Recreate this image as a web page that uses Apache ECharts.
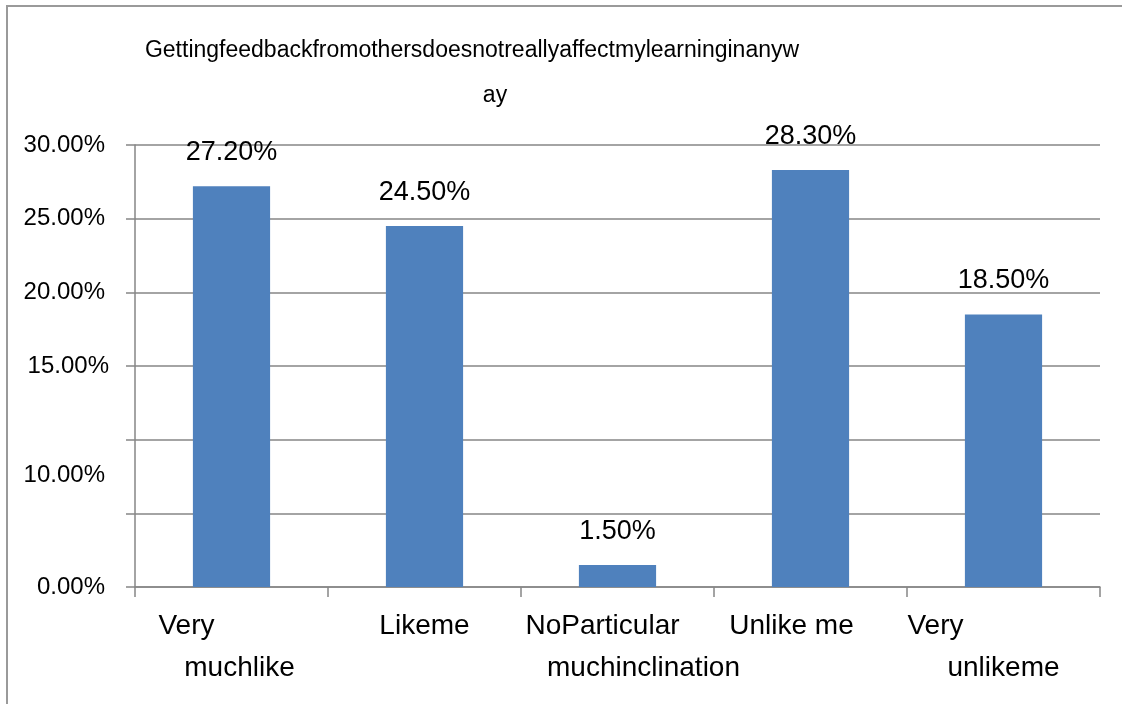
<!DOCTYPE html>
<html>
<head>
<meta charset="utf-8">
<script src="https://cdn.jsdelivr.net/npm/echarts@6/dist/echarts.min.js"></script>
<style>
  html, body { margin: 0; padding: 0; background: #ffffff; }
  #chart { width: 1122px; height: 704px; }
</style>
</head>
<body>
<div id="chart"></div>
<script>
// data
const titleLine1 = 'Gettingfeedbackfromothersdoesnotreallyaffectmylearninginanyw'
const titleLine2 = 'ay'
const categories = ['Very\nmuchlike', 'Likeme', 'NoParticular\nmuchinclination', 'Unlike me', 'Very\nunlikeme']
const values = [27.2, 24.5, 1.5, 28.3, 18.5]
const yTicks = [0, 5, 10, 15, 20, 25, 30]

// horizontal nudge of each label line (px), the original wraps them unevenly
const lineShift = [[-45, 8], [0], [-15, 26], [-19], [-68, 0]]

const font = 'Liberation Sans'
const grey = '#868686'

const xRich = {}
lineShift.forEach((lines, i) => {
  lines.forEach((d, j) => {
    xRich['c' + i + '_' + j] = {
      fontFamily: font,
      fontSize: 28,
      lineHeight: 42,
      color: '#000',
      padding: d > 0 ? [0, 0, 0, 2 * d] : [0, -2 * d, 0, 0],
    }
  })
})

const chart = echarts.init(document.getElementById('chart'))
chart.setOption({
  animation: false,
  backgroundColor: '#ffffff',
  title: {
    text: '{a|' + titleLine1 + '}\n{b|' + titleLine2 + '}',
    left: 472,
    top: 28,
    textAlign: 'center',
    padding: 0,
    textStyle: {
      fontWeight: 'normal',
      rich: {
        a: { fontFamily: font, fontSize: 23, fontWeight: 'normal', lineHeight: 45, color: '#000' },
        b: { fontFamily: font, fontSize: 23, fontWeight: 'normal', lineHeight: 45, color: '#000', padding: [0, 0, 0, 46] },
      },
    },
  },
  grid: {
    left: 135,
    right: 22,
    top: 145,
    bottom: 117,
  },
  xAxis: {
    type: 'category',
    data: categories,
    axisLine: { lineStyle: { color: grey, width: 1.5 } },
    axisTick: { show: true, length: 10, lineStyle: { color: grey, width: 1.5 } },
    axisLabel: {
      interval: 0,
      margin: 18,
      hideOverlap: false,
      formatter: (value, index) =>
        value.split('\n').map((t, j) => '{c' + index + '_' + j + '|' + t + '}').join('\n'),
      rich: xRich,
    },
  },
  yAxis: {
    type: 'value',
    min: yTicks[0],
    max: yTicks[yTicks.length - 1],
    interval: 5,
    axisLine: { show: true, lineStyle: { color: grey, width: 1.5 } },
    axisTick: { show: true, length: 9, lineStyle: { color: grey, width: 1.5 } },
    splitLine: { lineStyle: { color: grey, width: 1.5 } },
    axisLabel: {
      margin: 26,
      formatter: (v) => {
        if (v === 5) return ''
        const s = v.toFixed(2) + '%'
        if (v === 10) return '{low|' + s + '}'
        if (v === 15) return '{m|' + s + '}'
        return '{n|' + s + '}'
      },
      rich: {
        n: { fontFamily: font, fontSize: 24, color: '#000', padding: [0, 4, 0, 0] },
        m: { fontFamily: font, fontSize: 24, color: '#000' },
        low: { fontFamily: font, fontSize: 24, color: '#000', padding: [72, 4, 0, 0] },
      },
    },
  },
  graphic: [
    {
      type: 'polyline',
      silent: true,
      shape: { points: [[7, 704], [7, 6], [1122, 6]] },
      style: { stroke: '#9a9a9a', lineWidth: 2, fill: null },
    },
  ],
  series: [
    {
      type: 'bar',
      data: values,
      barWidth: '40%',
      itemStyle: { color: '#4f81bd' },
      label: {
        show: true,
        position: 'top',
        distance: 20,
        fontFamily: font,
        fontSize: 27,
        color: '#000',
        formatter: (p) => p.value.toFixed(2) + '%',
      },
    },
  ],
})
</script>
</body>
</html>
